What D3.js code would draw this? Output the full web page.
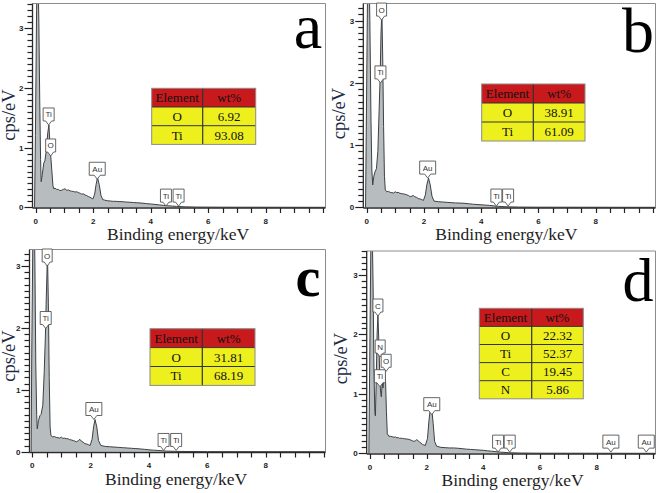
<!DOCTYPE html>
<html><head><meta charset="utf-8">
<script src="https://cdn.jsdelivr.net/npm/d3@7/dist/d3.min.js"></script>
<style>html,body{margin:0;padding:0;background:#fff}svg{display:block}</style>
</head><body><svg id="c" width="661" height="493"></svg>
<script>
// ---------- DATA ----------
const specA = [[-0.04,0],[-0.01,1.2],[0.03,3.3],[0.07,4.2],[0.11,3.1],[0.14,1.8],[0.17,0.8],[0.19,0.43],[0.23,0.55],[0.28,0.74],[0.32,0.78],[0.37,0.95],[0.42,1.25],[0.46,1.38],[0.49,1.1],[0.52,0.88],[0.56,0.62],[0.6,0.36],[0.63,0.31],[0.67,0.32],[0.73,0.3],[0.79,0.3],[0.84,0.28],[0.9,0.285],[0.96,0.3],[1.02,0.31],[1.08,0.285],[1.14,0.29],[1.2,0.275],[1.25,0.27],[1.31,0.265],[1.37,0.256],[1.43,0.26],[1.49,0.245],[1.55,0.235],[1.6,0.22],[1.66,0.225],[1.72,0.206],[1.78,0.195],[1.83,0.18],[1.89,0.17],[1.95,0.15],[1.99,0.14],[2.05,0.22],[2.1,0.38],[2.15,0.5],[2.21,0.38],[2.27,0.2],[2.33,0.13],[2.4,0.12],[2.5,0.11],[2.6,0.105],[2.7,0.1],[2.8,0.1],[2.9,0.095],[3.0,0.095],[3.1,0.09],[3.25,0.085],[3.4,0.08],[3.55,0.075],[3.7,0.07],[3.85,0.062],[4.0,0.055],[4.15,0.048],[4.3,0.04],[4.45,0.032],[4.6,0.025],[4.75,0.02],[4.9,0.015],[5.2,0.008],[5.6,0.004],[6.5,0.002],[10.1,0]];
const specB = [[-0.04,0],[-0.01,1.5],[0.03,3.5],[0.07,4.2],[0.11,3.0],[0.15,1.4],[0.18,0.6],[0.21,0.36],[0.25,0.5],[0.29,0.57],[0.34,0.62],[0.39,0.9],[0.43,1.5],[0.47,2.1],[0.5,2.8],[0.53,3.15],[0.56,2.4],[0.59,1.3],[0.62,0.5],[0.65,0.28],[0.7,0.25],[0.76,0.255],[0.82,0.24],[0.88,0.235],[0.94,0.23],[1.0,0.25],[1.05,0.235],[1.1,0.24],[1.16,0.225],[1.22,0.22],[1.28,0.215],[1.34,0.21],[1.4,0.2],[1.46,0.19],[1.52,0.17],[1.58,0.18],[1.63,0.19],[1.68,0.17],[1.74,0.16],[1.8,0.14],[1.86,0.135],[1.92,0.125],[1.98,0.11],[2.05,0.2],[2.1,0.36],[2.16,0.47],[2.22,0.36],[2.28,0.18],[2.35,0.1],[2.5,0.09],[2.65,0.085],[2.8,0.08],[2.95,0.075],[3.1,0.07],[3.25,0.068],[3.4,0.065],[3.55,0.058],[3.7,0.05],[3.85,0.045],[4.0,0.04],[4.15,0.035],[4.3,0.03],[4.45,0.022],[4.6,0.015],[4.9,0.008],[5.3,0.004],[6,0.002],[10.1,0]];
const specC = [[-0.04,0],[-0.02,1.5],[0.02,3.5],[0.06,4.2],[0.09,3.0],[0.12,1.4],[0.15,0.6],[0.17,0.37],[0.21,0.5],[0.26,0.58],[0.3,0.6],[0.36,0.75],[0.41,1.3],[0.45,1.9],[0.48,2.5],[0.52,3.2],[0.55,2.4],[0.58,1.2],[0.61,0.4],[0.64,0.26],[0.7,0.24],[0.76,0.245],[0.82,0.23],[0.88,0.225],[0.94,0.22],[1.0,0.235],[1.05,0.215],[1.1,0.22],[1.16,0.21],[1.22,0.21],[1.28,0.195],[1.34,0.19],[1.4,0.18],[1.46,0.17],[1.52,0.16],[1.58,0.18],[1.63,0.2],[1.68,0.17],[1.74,0.155],[1.8,0.13],[1.86,0.125],[1.92,0.115],[1.98,0.1],[2.05,0.2],[2.1,0.4],[2.15,0.52],[2.21,0.4],[2.27,0.18],[2.35,0.1],[2.5,0.085],[2.65,0.08],[2.8,0.075],[2.95,0.07],[3.1,0.065],[3.25,0.06],[3.4,0.055],[3.55,0.05],[3.7,0.045],[3.85,0.038],[4.0,0.03],[4.15,0.025],[4.3,0.02],[4.45,0.015],[4.6,0.01],[4.9,0.006],[5.3,0.003],[6,0.001],[10.1,0]];
const specD = [[-0.04,0],[-0.01,1.5],[0.03,3.5],[0.07,4.0],[0.11,2.8],[0.14,1.4],[0.17,0.7],[0.19,0.63],[0.22,1.2],[0.25,2.0],[0.28,2.33],[0.31,1.9],[0.34,1.4],[0.37,1.05],[0.4,0.95],[0.43,1.2],[0.46,1.1],[0.49,1.3],[0.52,1.42],[0.55,1.2],[0.58,0.7],[0.61,0.33],[0.66,0.29],[0.72,0.285],[0.78,0.28],[0.85,0.27],[0.9,0.275],[0.95,0.26],[1.0,0.265],[1.05,0.25],[1.1,0.255],[1.15,0.25],[1.22,0.245],[1.3,0.24],[1.37,0.235],[1.45,0.22],[1.5,0.21],[1.55,0.2],[1.6,0.21],[1.65,0.23],[1.7,0.21],[1.75,0.19],[1.8,0.17],[1.85,0.15],[1.9,0.14],[1.95,0.13],[2.03,0.25],[2.08,0.55],[2.13,0.75],[2.18,0.74],[2.23,0.5],[2.28,0.2],[2.35,0.12],[2.5,0.1],[2.65,0.095],[2.8,0.09],[2.95,0.09],[3.1,0.085],[3.25,0.078],[3.4,0.07],[3.55,0.065],[3.7,0.06],[3.85,0.055],[4.0,0.05],[4.15,0.042],[4.3,0.035],[4.45,0.027],[4.6,0.02],[4.9,0.01],[5.3,0.005],[6,0.002],[10.1,0]];

// peak callouts: [text, energy keV, tip cps/eV]
const labelsA = [["Ti",0.45,1.38],["O",0.52,0.86],["Au",2.14,0.47],["Ti",4.53,0.02],["Ti",4.97,0.02]];
const labelsB = [["Ti",0.48,2.0],["O",0.52,3.01],["Au",2.13,0.47],["Ti",4.53,0.02],["Ti",4.94,0.02]];
const labelsC = [["Ti",0.46,1.99],["O",0.51,3.0],["Au",2.11,0.52],["Ti",4.5,0.02],["Ti",4.93,0.02]];
const labelsD = [["C",0.28,2.31],["N",0.36,1.62],["Ti",0.35,1.12],["O",0.57,1.38],["Au",2.18,0.65],["Ti",4.52,0.02],["Ti",4.93,0.02],["Au",8.5,0.02],["Au",9.75,0.02]];

const tableHeader = ["Element","wt%"];
const tableA = [["O","6.92"],["Ti","93.08"]];
const tableB = [["O","38.91"],["Ti","61.09"]];
const tableC = [["O","31.81"],["Ti","68.19"]];
const tableD = [["O","22.32"],["Ti","52.37"],["C","19.45"],["N","5.86"]];

const panelLetters = ["a","b","c","d"];
const xTickLabels = [0,2,4,6,8];
const yTickLabels = [0,1,2,3];
const xTitle = "Binding energy/keV";
const yTitle = "cps/eV";

// ---------- LAYOUT ----------
const layout = [
 {spec:specA, labels:labelsA, table:tableA, fr:{l:32.5,r:325.5,t:3.5,b:208}, x0:35.7,x8:265.7, y0:207.3,y3:28.3,
  tb:{x:151.7,y:88.3,w:104,div:51,rh:18.7}, xt:[178,240], yt:[15,115], lt:{x:308,y:48,s:64,w:"normal"}},
 {spec:specB, labels:labelsB, table:tableB, fr:{l:363.3,r:655.5,t:3.5,b:208}, x0:366.7,x8:595.7, y0:207.3,y3:20.7,
  tb:{x:481.7,y:84,w:103.3,div:51.6,rh:19}, xt:[506.3,240], yt:[345,113.5], lt:{x:638,y:52,s:64,w:"normal"}},
 {spec:specC, labels:labelsC, table:tableC, fr:{l:29.5,r:325.5,t:249.5,b:452.5}, x0:32.3,x8:265.7, y0:451.7,y3:266,
  tb:{x:150,y:328.7,w:105,div:52.3,rh:18.9}, xt:[176,485], yt:[15,356], lt:{x:308,y:296,s:56,w:"bold"}},
 {spec:specD, labels:labelsD, table:tableD, fr:{l:366.7,r:655.5,t:251,b:454}, x0:370,x8:596.7, y0:453.3,y3:275,
  tb:{x:479.3,y:308.3,w:104,div:52.4,rh:18.1}, xt:[512.5,486], yt:[347,358.5], lt:{x:638,y:301,s:62,w:"normal"}}
];

const svg = d3.select("#c");
const serif = "'Liberation Serif','Times New Roman',serif";
const sans = "'Liberation Sans',Arial,sans-serif";

layout.forEach((P,i)=>{
  const f = P.fr;
  const x = d3.scaleLinear().domain([0,8]).range([P.x0,P.x8]);
  const y = d3.scaleLinear().domain([0,3]).range([P.y0,P.y3]);
  const g = svg.append("g");
  const cid = "clip"+i;
  g.append("clipPath").attr("id",cid).append("rect")
    .attr("x",f.l).attr("y",f.t).attr("width",f.r-f.l).attr("height",f.b-f.t);

  // spectrum
  const area = d3.area().x(d=>x(d[0])).y0(y(0)).y1(d=>y(d[1]));
  const line = d3.line().x(d=>x(d[0])).y(d=>y(d[1]));
  const sg = g.append("g").attr("clip-path",`url(#${cid})`);
  sg.append("path").datum(P.spec).attr("d",area).attr("fill","#b7bcbf");
  sg.append("path").datum(P.spec).attr("d",line).attr("fill","none").attr("stroke","#3d4144").attr("stroke-width",1);

  // frame
  g.append("line").attr("x1",f.l).attr("x2",f.r).attr("y1",f.t).attr("y2",f.t).attr("stroke","#8c8c8c");
  g.append("line").attr("x1",f.r).attr("x2",f.r).attr("y1",f.t).attr("y2",f.b).attr("stroke","#8c8c8c");
  g.append("line").attr("x1",f.l).attr("x2",f.l).attr("y1",f.t).attr("y2",f.b).attr("stroke","#2a2a2a").attr("stroke-width",1.3);
  g.append("line").attr("x1",f.l).attr("x2",f.r).attr("y1",f.b).attr("y2",f.b).attr("stroke","#2a2a2a").attr("stroke-width",1.3);

  // y ticks
  const ymax = y.invert(f.t);
  const yt = d3.range(0, Math.floor(ymax*10)+1).map(k=>k/10);
  g.selectAll(".yt").data(yt).join("line")
    .attr("x1",d=>f.l-(Math.abs(d-Math.round(d))<1e-6?8:5)).attr("x2",f.l)
    .attr("y1",d=>Math.round(y(d))+0.5).attr("y2",d=>Math.round(y(d))+0.5)
    .attr("stroke","#222").attr("stroke-width",1.2);
  g.selectAll(".ytl").data(yTickLabels.filter(v=>v<=ymax)).join("text")
    .attr("x",f.l-9).attr("y",d=>y(d)+3).attr("text-anchor","end")
    .attr("font-family",sans).attr("font-weight","bold").attr("font-size",8).attr("fill","#222").text(d=>d);

  // x ticks
  const xt = d3.range(0,21).map(k=>k/2);
  g.selectAll(".xt").data(xt).join("line")
    .attr("x1",d=>Math.round(x(d))+0.5).attr("x2",d=>Math.round(x(d))+0.5)
    .attr("y1",f.b).attr("y2",f.b+5).attr("stroke","#222").attr("stroke-width",1.2);
  g.selectAll(".xtl").data(xTickLabels).join("text")
    .attr("x",d=>x(d)).attr("y",f.b+15.5).attr("text-anchor","middle")
    .attr("font-family",sans).attr("font-weight","bold").attr("font-size",8).attr("fill","#222").text(d=>d);

  // titles
  g.append("text").attr("x",P.xt[0]).attr("y",P.xt[1]).attr("text-anchor","middle")
    .attr("font-family",serif).attr("font-size",17.5).attr("fill","#1e1e1e").text(xTitle);
  g.append("text").attr("transform",`translate(${P.yt[0]},${P.yt[1]}) rotate(-90)`).attr("text-anchor","middle")
    .attr("font-family",serif).attr("font-size",18.5).attr("fill","#1c2a44").text(yTitle);

  // peak callouts
  const lg = g.selectAll(".lab").data(P.labels).join("g");
  lg.each(function(d){
    const s = d3.select(this);
    const tx = x(d[1]), ty = y(d[2]);
    const w = d[0].length>1 ? (d[0]==="Au"?16:11) : 10, h = 13, ph = 4;
    const l = tx-w/2, r = tx+w/2, b = ty-ph, t = b-h;
    s.append("path").attr("d",`M${l},${t}H${r}V${b}H${tx+3}L${tx},${ty}L${tx-3},${b}H${l}Z`)
      .attr("fill","#fff").attr("stroke","#555").attr("stroke-width",0.9);
    s.append("text").attr("x",tx).attr("y",b-3.5).attr("text-anchor","middle")
      .attr("font-family",sans).attr("font-size",8).attr("fill","#333").text(d[0]);
  });

  // table
  const T = P.tb;
  const rows = [tableHeader].concat(P.table);
  const tg = g.append("g");
  rows.forEach((r,k)=>{
    tg.append("rect").attr("x",T.x).attr("y",T.y+k*T.rh).attr("width",T.w).attr("height",T.rh)
      .attr("fill",k===0?"#c8191c":"#eef01e");
    [0,1].forEach(c=>{
      const cx = c===0 ? T.x+T.div/2 : T.x+T.div+(T.w-T.div)/2;
      tg.append("text").attr("x",cx).attr("y",T.y+k*T.rh+T.rh/2+4.5).attr("text-anchor","middle")
        .attr("font-family",serif).attr("font-size",13).attr("fill","#111").text(r[c]);
    });
  });
  for(let k=1;k<rows.length;k++){
    tg.append("line").attr("x1",T.x).attr("x2",T.x+T.w).attr("y1",T.y+k*T.rh).attr("y2",T.y+k*T.rh)
      .attr("stroke","#333").attr("stroke-width",1);
  }
  tg.append("line").attr("x1",T.x+T.div).attr("x2",T.x+T.div).attr("y1",T.y).attr("y2",T.y+rows.length*T.rh)
    .attr("stroke","#333").attr("stroke-width",1.2);
  tg.append("rect").attr("x",T.x).attr("y",T.y).attr("width",T.w).attr("height",rows.length*T.rh)
    .attr("fill","none").attr("stroke","#8a8a8a").attr("stroke-width",1);

  // panel letter
  g.append("text").attr("x",P.lt.x).attr("y",P.lt.y).attr("text-anchor","middle")
    .attr("font-family",serif).attr("font-size",P.lt.s).attr("font-weight",P.lt.w).attr("fill","#000").text(panelLetters[i]);
});
</script></body></html>
